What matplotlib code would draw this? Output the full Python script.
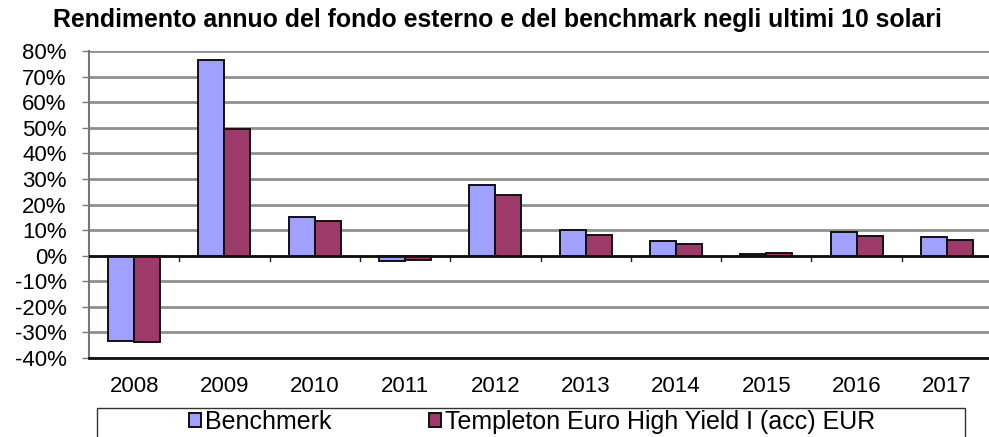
import matplotlib
matplotlib.use("Agg")
import matplotlib.pyplot as plt
from matplotlib.patches import Rectangle
import numpy as np

years = ["2008", "2009", "2010", "2011", "2012", "2013", "2014", "2015", "2016", "2017"]
benchmark = [-33.5, 76.3, 15.0, -2.0, 27.5, 10.2, 5.6, 0.6, 9.1, 7.3]
templeton = [-33.7, 49.5, 13.7, -1.5, 23.6, 8.2, 4.5, 1.2, 7.5, 6.2]
series_names = ["Benchmerk", "Templeton Euro High Yield I (acc) EUR"]
title = "Rendimento annuo del fondo esterno e del benchmark negli ultimi 10 solari"

plt.rcParams["font.family"] = ["Liberation Sans", "DejaVu Sans"]

W, H = 989, 437
fig = plt.figure(figsize=(W / 100, H / 100), dpi=100)
ax = fig.add_axes([89 / W, 1 - 358 / H, 903 / W, 307 / H])

x = np.arange(len(years))
w = 0.288
ax.bar(x - w / 2, benchmark, w, color="#A0A0FF", edgecolor="#111111", linewidth=1.4,
       label=series_names[0], zorder=3)
ax.bar(x + w / 2, templeton, w, color="#9E3A6A", edgecolor="#111111", linewidth=1.4,
       label=series_names[1], zorder=3)

ax.set_xlim(-0.5, len(years) - 0.5)
ax.set_ylim(-40, 80)
yt = np.arange(-40, 81, 10)
ax.set_yticks(yt)
ax.set_yticklabels([f"{v}%" for v in yt], fontsize=16)
ax.yaxis.grid(True, color="#8f8f8f", linewidth=2.0, zorder=0)
ax.set_axisbelow(True)
ax.tick_params(axis="y", length=5, width=1, color="#777777", pad=11)

# category labels at the bottom, boundary ticks on the zero line
ax.set_xticks(x)
ax.set_xticklabels(years, fontsize=16)
ax.tick_params(axis="x", length=0, pad=13)
for b in np.arange(0.5, len(years) - 1, 1.0):
    ax.plot([b, b], [0, -2.2], color="#222222", linewidth=1, zorder=4, clip_on=False)
ax.axhline(0, color="#111111", linewidth=2.0, zorder=4)

for s in ["top", "right"]:
    ax.spines[s].set_visible(False)
ax.spines["left"].set_color("#777777")
ax.spines["left"].set_linewidth(1.5)
ax.spines["bottom"].set_color("#111111")
ax.spines["bottom"].set_linewidth(2.0)

fig.text(497 / W, 1 - 20 / H, title, ha="center", va="center", fontsize=17.9,
         fontweight="bold")

# legend box running off the bottom edge
fig.add_artist(Rectangle((97 / W, -0.1), 868 / W, 0.1 + 1 - 408 / H,
                         transform=fig.transFigure, fill=False,
                         edgecolor="#333333", linewidth=1.0))
leg = fig.legend(loc="center", bbox_to_anchor=(532 / W, 1 - 422 / H), ncol=2,
                 fontsize=18, frameon=False, handlelength=0.5, handleheight=0.5,
                 handletextpad=0.15, columnspacing=3.9, borderpad=0.0)

fig.savefig("out.png", dpi=100)
